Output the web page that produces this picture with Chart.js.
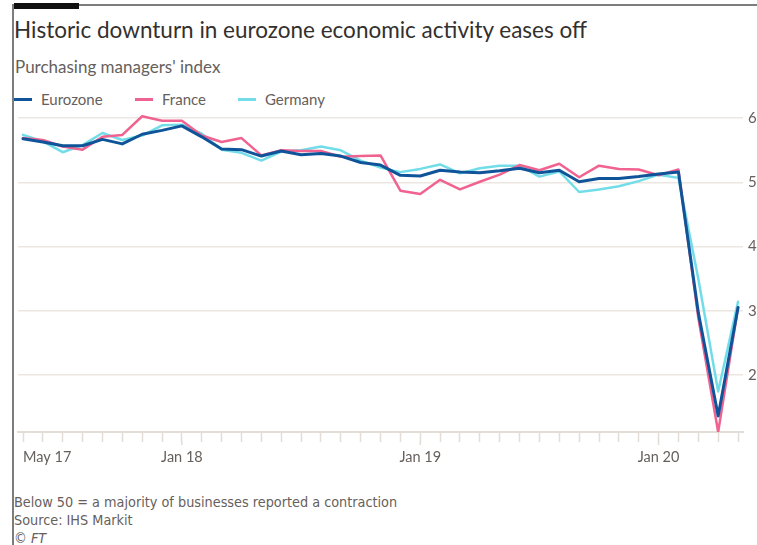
<!DOCTYPE html>
<html>
<head>
<meta charset="utf-8">
<script src="https://cdn.jsdelivr.net/npm/chart.js@4.4.1/dist/chart.umd.min.js"></script>
<style>
    body { margin: 0; width: 757px; height: 545px; overflow: hidden; background: #fff; position: relative; font-family: Lato, sans-serif; }
    .abs { position: absolute; }
    #topline { left: 13px; top: 4px; width: 760px; height: 2px; background: #7d7d7d; }
    #leftline { left: 12px; top: 4px; width: 2px; height: 545px; background: #7d7d7d; }
    #bar { left: 14px; top: 3px; width: 65px; height: 6px; background: #111; }
    #title { left: 14px; top: 19px; font-size: 22.5px; line-height: 22.5px; color: #33302e; white-space: nowrap; }
    #subtitle { left: 15px; top: 58px; font-size: 17px; line-height: 17px; color: #66605c; white-space: nowrap; }
    #legend { left: 14px; top: 91px; height: 16px; }
    .item { position: absolute; top: 0; font-size: 15px; line-height: 16px; color: #66605c; white-space: nowrap; }
    .swatch { position: absolute; top: 7px; width: 18px; height: 3px; }
    #footer { left: 14px; top: 493px; font-family: "Liberation Sans Narrow", "DejaVu Sans Condensed", sans-serif; font-size: 14.3px; line-height: 18px; color: #66605c; white-space: nowrap; }
    #chartBox { left: 16px; top: 100px; width: 757px; height: 372px; }
</style>
</head>
<body>
<div class="abs" id="topline"></div>
<div class="abs" id="leftline"></div>
<div class="abs" id="bar"></div>
<div class="abs" id="title">Historic downturn in eurozone economic activity eases off</div>
<div class="abs" id="subtitle">Purchasing managers' index</div>
<div class="abs" id="legend"></div>
<div class="abs" id="chartBox"><canvas id="pmiChart"></canvas></div>
<div class="abs" id="footer">Below 50 = a majority of businesses reported a contraction<br>Source: IHS Markit<br><i>© FT</i></div>

<script>
// monthly composite PMI, May 2017 - May 2020
const months = [
    'May 17', 'Jun 17', 'Jul 17', 'Aug 17', 'Sep 17', 'Oct 17', 'Nov 17', 'Dec 17',
    'Jan 18', 'Feb 18', 'Mar 18', 'Apr 18', 'May 18', 'Jun 18', 'Jul 18', 'Aug 18', 'Sep 18', 'Oct 18', 'Nov 18', 'Dec 18',
    'Jan 19', 'Feb 19', 'Mar 19', 'Apr 19', 'May 19', 'Jun 19', 'Jul 19', 'Aug 19', 'Sep 19', 'Oct 19', 'Nov 19', 'Dec 19',
    'Jan 20', 'Feb 20', 'Mar 20', 'Apr 20', 'May 20'
];
const shownLabels = ['May 17', 'Jan 18', 'Jan 19', 'Jan 20'];
const yTicks = [20, 30, 40, 50, 60];

const eurozone = [
    56.8, 56.3, 55.7, 55.7, 56.7, 56.0, 57.5, 58.1,
    58.8, 57.1, 55.2, 55.1, 54.1, 54.9, 54.3, 54.5, 54.1, 53.1, 52.7, 51.1,
    51.0, 51.9, 51.6, 51.5, 51.8, 52.2, 51.5, 51.9, 50.1, 50.6, 50.6, 50.9,
    51.3, 51.6, 29.7, 13.6, 30.5
];
const france = [
    56.9, 56.6, 55.6, 55.1, 57.1, 57.4, 60.3, 59.6,
    59.6, 57.3, 56.3, 56.9, 54.2, 55.0, 54.9, 54.9, 54.0, 54.1, 54.2, 48.7,
    48.2, 50.4, 48.9, 50.1, 51.2, 52.7, 51.9, 52.9, 50.8, 52.6, 52.1, 52.0,
    51.1, 52.0, 28.9, 11.1, 30.5
];
const germany = [
    57.4, 56.4, 54.7, 55.8, 57.7, 56.6, 57.3, 58.9,
    59.0, 57.6, 55.1, 54.6, 53.4, 54.8, 55.0, 55.6, 55.0, 53.4, 52.3, 51.6,
    52.1, 52.8, 51.4, 52.2, 52.6, 52.6, 50.9, 51.7, 48.5, 48.9, 49.4, 50.2,
    51.2, 50.7, 35.0, 17.4, 31.4
];

const series = [
    { label: 'Eurozone', data: eurozone, color: '#0f5499', width: 3 },
    { label: 'France', data: france, color: '#f0628f', width: 2.5 },
    { label: 'Germany', data: germany, color: '#72dde8', width: 2.5 }
];

// legend
const legendPos = [0, 121, 224];
const legend = document.getElementById('legend');
series.forEach((s, i) => {
    const sw = document.createElement('div');
    sw.className = 'swatch';
    sw.style.left = legendPos[i] + 'px';
    sw.style.background = s.color;
    legend.appendChild(sw);
    const txt = document.createElement('div');
    txt.className = 'item';
    txt.style.left = (legendPos[i] + 27) + 'px';
    txt.textContent = s.label;
    legend.appendChild(txt);
});

// longer tick marks at each January
const janTicks = {
    id: 'janTicks',
    afterDraw(chart) {
        const x = chart.scales.x;
        const c = chart.ctx;
        c.save();
        c.strokeStyle = '#e3ddd8';
        c.lineWidth = 1.5;
        months.forEach((m, i) => {
            if (m.startsWith('Jan')) {
                const px = x.getPixelForValue(i);
                c.beginPath();
                c.moveTo(px, x.top + 9);
                c.lineTo(px, x.top + 13);
                c.stroke();
            }
        });
        c.restore();
    }
};

const ctx = document.getElementById('pmiChart').getContext('2d');
new Chart(ctx, {
    type: 'line',
    data: {
        datasets: series.map(s => ({
            label: s.label,
            data: s.data.map((v, i) => ({ x: i, y: v })),
            borderColor: s.color,
            backgroundColor: s.color,
            borderWidth: s.width,
            pointRadius: 0,
            tension: 0,
            borderJoinStyle: 'round',
            borderCapStyle: 'round'
        }))
    },
    options: {
        responsive: true,
        maintainAspectRatio: false,
        animation: false,
        layout: { padding: { top: 15, left: 0, right: 0, bottom: 0 } },
        plugins: {
            legend: { display: false },
            tooltip: { enabled: false }
        },
        scales: {
            x: {
                type: 'linear',
                min: -0.25,
                max: months.length - 0.75,
                afterBuildTicks: scale => {
                    scale.ticks = months.map((m, i) => ({ value: i }));
                },
                afterFit: scale => { scale.height = 40; },
                grid: {
                    drawOnChartArea: false,
                    drawTicks: true,
                    tickLength: 10,
                    tickColor: '#e3ddd8',
                    tickWidth: 1.5
                },
                border: { display: true, color: '#e3ddd8', width: 2 },
                ticks: {
                    autoSkip: false,
                    maxRotation: 0,
                    align: 'inner',
                    padding: 7,
                    color: '#66605c',
                    font: { family: 'Lato', size: 14.5 },
                    callback: value => shownLabels.includes(months[value]) ? months[value] : ''
                }
            },
            y: {
                position: 'right',
                min: 11.1,
                max: 60.5,
                afterBuildTicks: scale => {
                    scale.ticks = yTicks.map(v => ({ value: v }));
                },
                afterFit: scale => { scale.width = 30; },
                grid: {
                    color: '#ece6e1',
                    lineWidth: 1.5,
                    drawTicks: false
                },
                border: { display: false },
                ticks: {
                    padding: 5,
                    color: '#66605c',
                    font: { family: 'Lato', size: 15 }
                }
            }
        }
    },
    plugins: [janTicks]
});
</script>
</body>
</html>
